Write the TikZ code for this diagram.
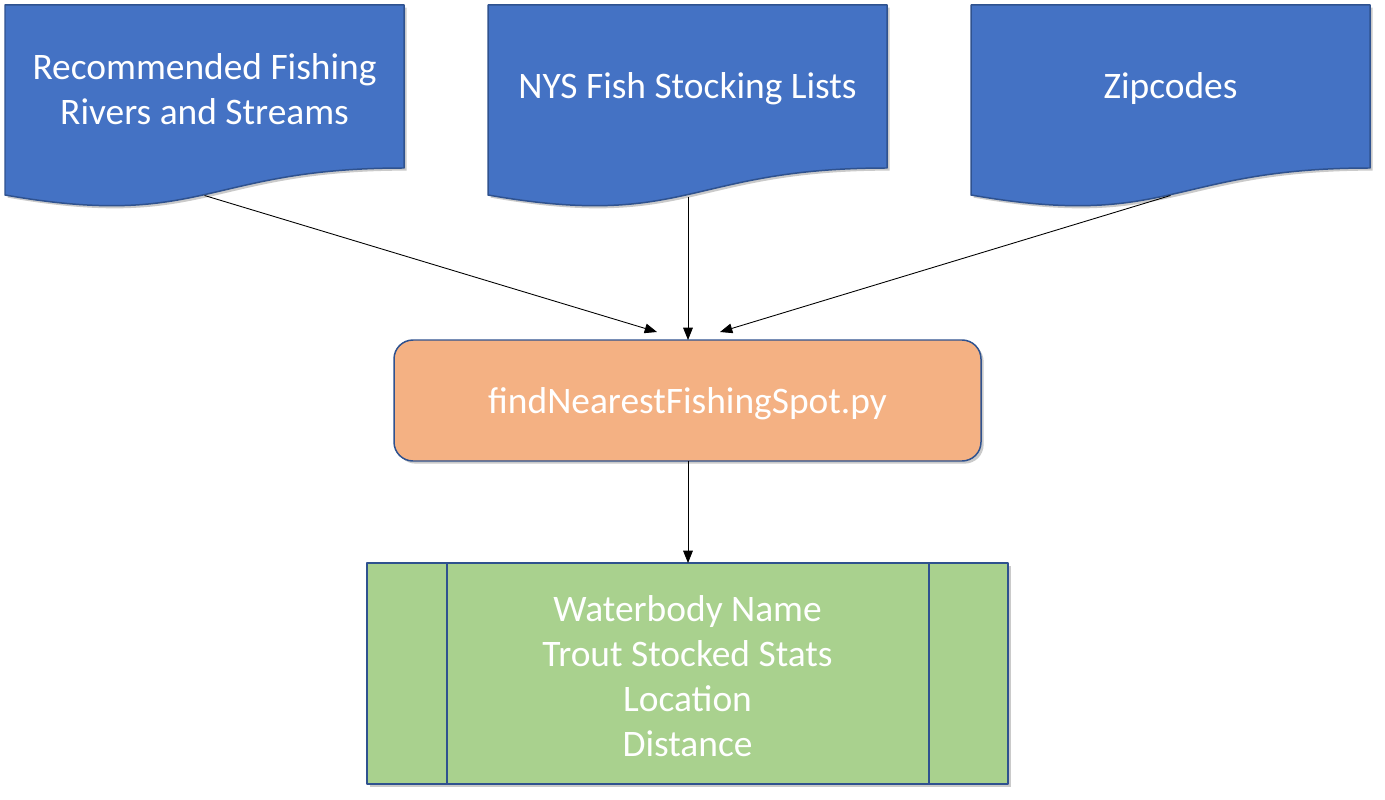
\documentclass[tikz,border=0pt]{standalone}
\usepackage{fontspec}
\setmainfont{Carlito}
\usetikzlibrary{arrows.meta,shadows}
\definecolor{docblue}{HTML}{4472C4}
\definecolor{edgeblue}{HTML}{2F528F}
\definecolor{procorange}{HTML}{F4B183}
\definecolor{outgreen}{HTML}{A9D18E}
\begin{document}
\begin{tikzpicture}[x=0.02cm,y=-0.02cm,>={Triangle[length=7pt,width=5.5pt]},line join=round,
  font=\fontsize{21.3}{25.5}\selectfont,
  shade/.style={drop shadow={shadow xshift=1.5pt,shadow yshift=-1.5pt,opacity=0.35,fill=black!60}},
  boxtext/.style={text=white,align=center,inner sep=0pt},
  link/.style={->,line width=0.5pt}]
	% Khung
	\useasboundingbox (0,0) rectangle (1385,800);
	% Ba tai lieu
	\def\w{399}
	\foreach \x/\nm in {5/rivers,488/lists,971/zips}{
		\filldraw [docblue,draw=edgeblue,line width=0.85pt,shade]
			(\x,5) -- ({\x+\w},5) -- ({\x+\w},168)
			.. controls ({\x+\w/2},168) and ({\x+\w/2},230) .. (\x,195) -- cycle;
		\coordinate (\nm-b) at ({\x+\w/2},{195.5});
	}
	\coordinate (lists-b) at (688,197);
	\node [boxtext] (rivers) at (204.5,89) {Recommended Fishing\\Rivers and Streams};
	\node [boxtext] (lists) at (687.5,89) {NYS Fish Stocking Lists};
	\node [boxtext] (zips) at (1170.5,89) {Zipcodes};
	% Chuong trinh
	\filldraw [procorange,draw=edgeblue,line width=0.85pt,rounded corners=0.38cm,shade]
		(394,340) rectangle (981,461);
	\node [boxtext] (prog) at (687.5,404) {findNearestFishingSpot.py};
	\coordinate (prog-t) at (688,340);
	\coordinate (prog-l) at (657,332);
	\coordinate (prog-r) at (720,332);
	\coordinate (prog-b) at (688,461);
	% Ket qua
	\filldraw [outgreen,draw=edgeblue,line width=0.85pt,shade] (367,563) rectangle (1008,784);
	\draw [edgeblue,line width=0.85pt] (447,563) -- (447,784) (929,563) -- (929,784);
	\node [boxtext] (result) at (687.5,676) {Waterbody Name\\Trout Stocked Stats\\Location\\Distance};
	\coordinate (result-t) at (688,563);
	% Mui ten
	\draw [link] (rivers-b) -- (prog-l);
	\draw [link] (lists-b) -- (prog-t);
	\draw [link] (zips-b) -- (prog-r);
	\draw [link] (prog-b) -- (result-t);
\end{tikzpicture}
\end{document}
